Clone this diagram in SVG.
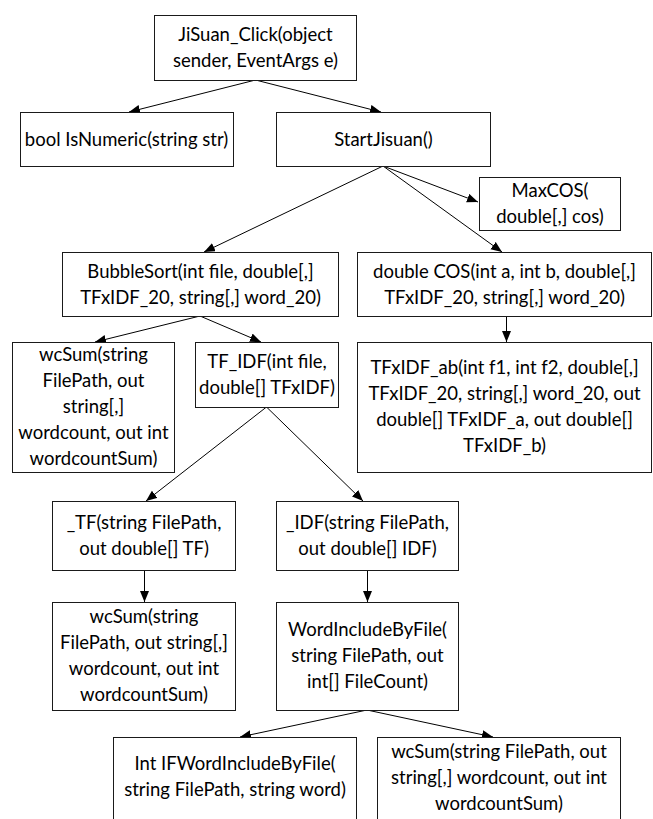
<svg xmlns="http://www.w3.org/2000/svg" width="653" height="819" viewBox="0 0 653 819">
<style>
.box{fill:#fff;stroke:#1a1a1a;stroke-width:1}
.t{font-family:Lato,"Open Sans",sans-serif;font-size:18.5px;fill:#000;text-anchor:middle}
.c{fill:none;stroke:#000;stroke-width:1;marker-end:url(#ah)}
</style>
<defs>
<marker id="ah" markerUnits="userSpaceOnUse" markerWidth="12" markerHeight="10" refX="11" refY="4.5" orient="auto">
<path d="M0,0 L11,4.5 L0,9 z" fill="#000"/>
</marker>
</defs>
<rect width="653" height="819" fill="#fff"/>
<g id="connectors">
<line class="c" x1="255.5" y1="80" x2="129" y2="112"/>
<line class="c" x1="255.5" y1="80" x2="381" y2="112"/>
<line class="c" x1="383" y1="166" x2="478" y2="202"/>
<line class="c" x1="383" y1="166" x2="204" y2="252"/>
<line class="c" x1="383" y1="166" x2="502" y2="252"/>
<line class="c" x1="200" y1="316" x2="95" y2="342"/>
<line class="c" x1="200" y1="316" x2="261" y2="342"/>
<line class="c" x1="506.5" y1="316" x2="506.5" y2="342"/>
<line class="c" x1="266.5" y1="407" x2="146" y2="501"/>
<line class="c" x1="266.5" y1="407" x2="363" y2="501"/>
<line class="c" x1="144.5" y1="570" x2="144.5" y2="602"/>
<line class="c" x1="367.5" y1="570" x2="367.5" y2="602"/>
<line class="c" x1="367" y1="710" x2="240" y2="737"/>
<line class="c" x1="367" y1="710" x2="493" y2="737"/>
</g>
<g id="n_jisuan_click">
<rect class="box" x="154.5" y="15.5" width="202" height="65"/>
<text class="t" x="255.5" y="41">JiSuan_Click(object</text>
<text class="t" x="255.5" y="67">sender, EventArgs e)</text>
</g>
<g id="n_isnumeric">
<rect class="box" x="20.5" y="112.5" width="213" height="54"/>
<text class="t" x="126.5" y="146">bool IsNumeric(string str)</text>
</g>
<g id="n_startjisuan">
<rect class="box" x="276.5" y="112.5" width="214" height="54"/>
<text class="t" x="383.5" y="146">StartJisuan()</text>
</g>
<g id="n_maxcos">
<rect class="box" x="479.5" y="177.5" width="141" height="53"/>
<text class="t" x="550" y="197">MaxCOS(</text>
<text class="t" x="550" y="223">double[,] cos)</text>
</g>
<g id="n_bubblesort">
<rect class="box" x="62.5" y="252.5" width="276" height="64"/>
<text class="t" x="200.5" y="278">BubbleSort(int file, double[,]</text>
<text class="t" x="200.5" y="304">TFxIDF_20, string[,] word_20)</text>
</g>
<g id="n_cos">
<rect class="box" x="357.5" y="252.5" width="294" height="64"/>
<text class="t" x="504.5" y="278">double COS(int a, int b, double[,]</text>
<text class="t" x="504.5" y="304">TFxIDF_20, string[,] word_20)</text>
</g>
<g id="n_wcsum1">
<rect class="box" x="12.5" y="342.5" width="162" height="130"/>
<text class="t" x="93.5" y="361">wcSum(string</text>
<text class="t" x="93.5" y="387">FilePath, out</text>
<text class="t" x="93.5" y="413">string[,]</text>
<text class="t" x="93.5" y="439">wordcount, out int</text>
<text class="t" x="93.5" y="465">wordcountSum)</text>
</g>
<g id="n_tf_idf">
<rect class="box" x="195.5" y="342.5" width="143" height="65"/>
<text class="t" x="267" y="368">TF_IDF(int file,</text>
<text class="t" x="267" y="394">double[] TFxIDF)</text>
</g>
<g id="n_tfxidf_ab">
<rect class="box" x="357.5" y="342.5" width="294" height="130"/>
<text class="t" x="504.5" y="374">TFxIDF_ab(int f1, int f2, double[,]</text>
<text class="t" x="504.5" y="400">TFxIDF_20, string[,] word_20, out</text>
<text class="t" x="504.5" y="426">double[] TFxIDF_a, out double[]</text>
<text class="t" x="504.5" y="452">TFxIDF_b)</text>
</g>
<g id="n_tf">
<rect class="box" x="52.5" y="501.5" width="183" height="69"/>
<text class="t" x="144" y="529">_TF(string FilePath,</text>
<text class="t" x="144" y="555">out double[] TF)</text>
</g>
<g id="n_idf">
<rect class="box" x="276.5" y="501.5" width="182" height="69"/>
<text class="t" x="367.5" y="529">_IDF(string FilePath,</text>
<text class="t" x="367.5" y="555">out double[] IDF)</text>
</g>
<g id="n_wcsum2">
<rect class="box" x="52.5" y="602.5" width="183" height="108"/>
<text class="t" x="144" y="623">wcSum(string</text>
<text class="t" x="144" y="649">FilePath, out string[,]</text>
<text class="t" x="144" y="675">wordcount, out int</text>
<text class="t" x="144" y="701">wordcountSum)</text>
</g>
<g id="n_wordinclude">
<rect class="box" x="276.5" y="602.5" width="182" height="108"/>
<text class="t" x="367.5" y="636">WordIncludeByFile(</text>
<text class="t" x="367.5" y="662">string FilePath, out</text>
<text class="t" x="367.5" y="688">int[] FileCount)</text>
</g>
<g id="n_ifwordinclude">
<rect class="box" x="113.5" y="737.5" width="243" height="90"/>
<text class="t" x="235" y="770">Int IFWordIncludeByFile(</text>
<text class="t" x="235" y="796">string FilePath, string word)</text>
</g>
<g id="n_wcsum3">
<rect class="box" x="377.5" y="737.5" width="243" height="90"/>
<text class="t" x="499" y="758">wcSum(string FilePath, out</text>
<text class="t" x="499" y="784">string[,] wordcount, out int</text>
<text class="t" x="499" y="810">wordcountSum)</text>
</g>
</svg>
